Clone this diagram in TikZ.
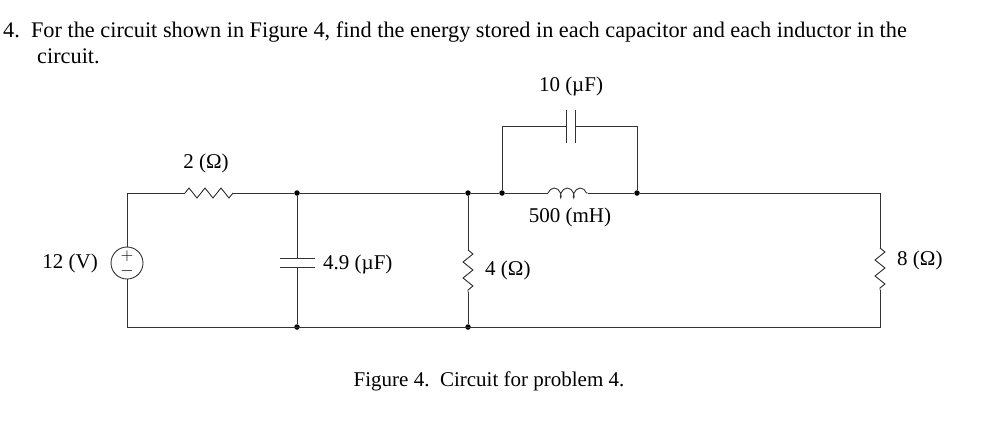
\documentclass[tikz,border=0pt]{standalone}
\usepackage{fontspec}
\setmainfont{Liberation Serif}
\usetikzlibrary{calc,decorations.pathmorphing}
\tikzset{>=latex}
\tikzstyle{wire}=[draw=black!80,line width=0.9pt]
\tikzstyle{dot}=[circle,fill=black,inner sep=0pt,minimum size=5.5pt]
\tikzstyle{lbl}=[inner sep=1pt,font=\fontsize{21}{24}\selectfont]
\tikzstyle{zig}=[wire,decorate,decoration={zigzag,segment length=16pt,amplitude=5pt}]
\tikzstyle{coil}=[wire,decorate,decoration={coil,segment length=13pt,amplitude=5pt,aspect=0.6}]
\begin{document}
\begin{tikzpicture}[x=1pt,y=-1pt]
	\useasboundingbox (0,0) rectangle (995,426);
	\def \top {193};
	\def \bot {327};

	% text
	\node[lbl,anchor=west,font=\fontsize{22.3}{25}\selectfont] (q) at (2,32) {4.\enspace For the circuit shown in Figure 4, find the energy stored in each capacitor and each inductor in the};
	\node[lbl,anchor=west,font=\fontsize{22.3}{25}\selectfont] (q2) at (36,56) {circuit.};
	\node[lbl] (fig) at (489,381) {Figure 4.\enspace Circuit for problem 4.};

	% corners and nodes
	\coordinate (tl) at (127,\top);
	\coordinate (bl) at (127,\bot);
	\coordinate (tr) at (880,\top);
	\coordinate (br) at (880,\bot);
	\node[dot] (n1) at (297,\top) {};
	\node[dot] (n2) at (468,\top) {};
	\node[dot] (n3) at (502,\top) {};
	\node[dot] (n4) at (637,\top) {};
	\node[dot] (m1) at (297,\bot) {};
	\node[dot] (m2) at (468,\bot) {};
	\coordinate (c1) at (502,126);
	\coordinate (c2) at (637,126);

	% source
	\node[circle,draw=black!80,line width=0.9pt,minimum size=32pt,inner sep=0pt] (src) at (127,263) {};
	\node[font=\fontsize{16}{16}\selectfont] at (127,256) {$+$};
	\node[font=\fontsize{16}{16}\selectfont] at (127,271) {$-$};
	\node[lbl,anchor=east] (vs) at (99,263) {12 (V)};
	\draw[wire] (src.north) -- (tl) -- (185,\top);
	\draw[wire] (src.south) -- (bl) -- (br) -- (880,290);
	\draw[zig] (185,\top) -- (233,\top);
	\draw[wire] (233,\top) -- (n1) -- (n2) -- (n3) -- (548,\top);
	\node[lbl] (r1) at (206,163) {2 (Ω)};

	% 4.9 uF
	\draw[wire] (n1) -- (297,258);
	\draw[wire] (297,267) -- (m1);
	\draw[wire] (280,258) -- (315,258);
	\draw[wire] (280,267) -- (315,267);
	\node[lbl,anchor=west] (cap1) at (322,264) {4.9 (µF)};

	% 4 ohm
	\draw[wire] (n2) -- (468,250);
	\draw[zig] (468,250) -- (468,292);
	\draw[wire] (468,292) -- (m2);
	\node[lbl,anchor=west] (r2) at (484,270) {4 (Ω)};

	% inductor and top capacitor
	\draw[coil] (548,\top) -- (588,\top);
	\draw[wire] (588,\top) -- (n4) -- (tr) -- (880,248);
	\node[lbl] (ind) at (570,217) {500 (mH)};
	\draw[wire] (n3) -- (c1) -- (566,126);
	\draw[wire] (575,126) -- (c2) -- (n4);
	\draw[wire] (566,110) -- (566,143);
	\draw[wire] (575,110) -- (575,143);
	\node[lbl] (cap2) at (571,86) {10 (µF)};

	% 8 ohm
	\draw[zig] (880,248) -- (880,290);
	\node[lbl,anchor=west] (r3) at (896,260) {8 (Ω)};
\end{tikzpicture}
\end{document}
